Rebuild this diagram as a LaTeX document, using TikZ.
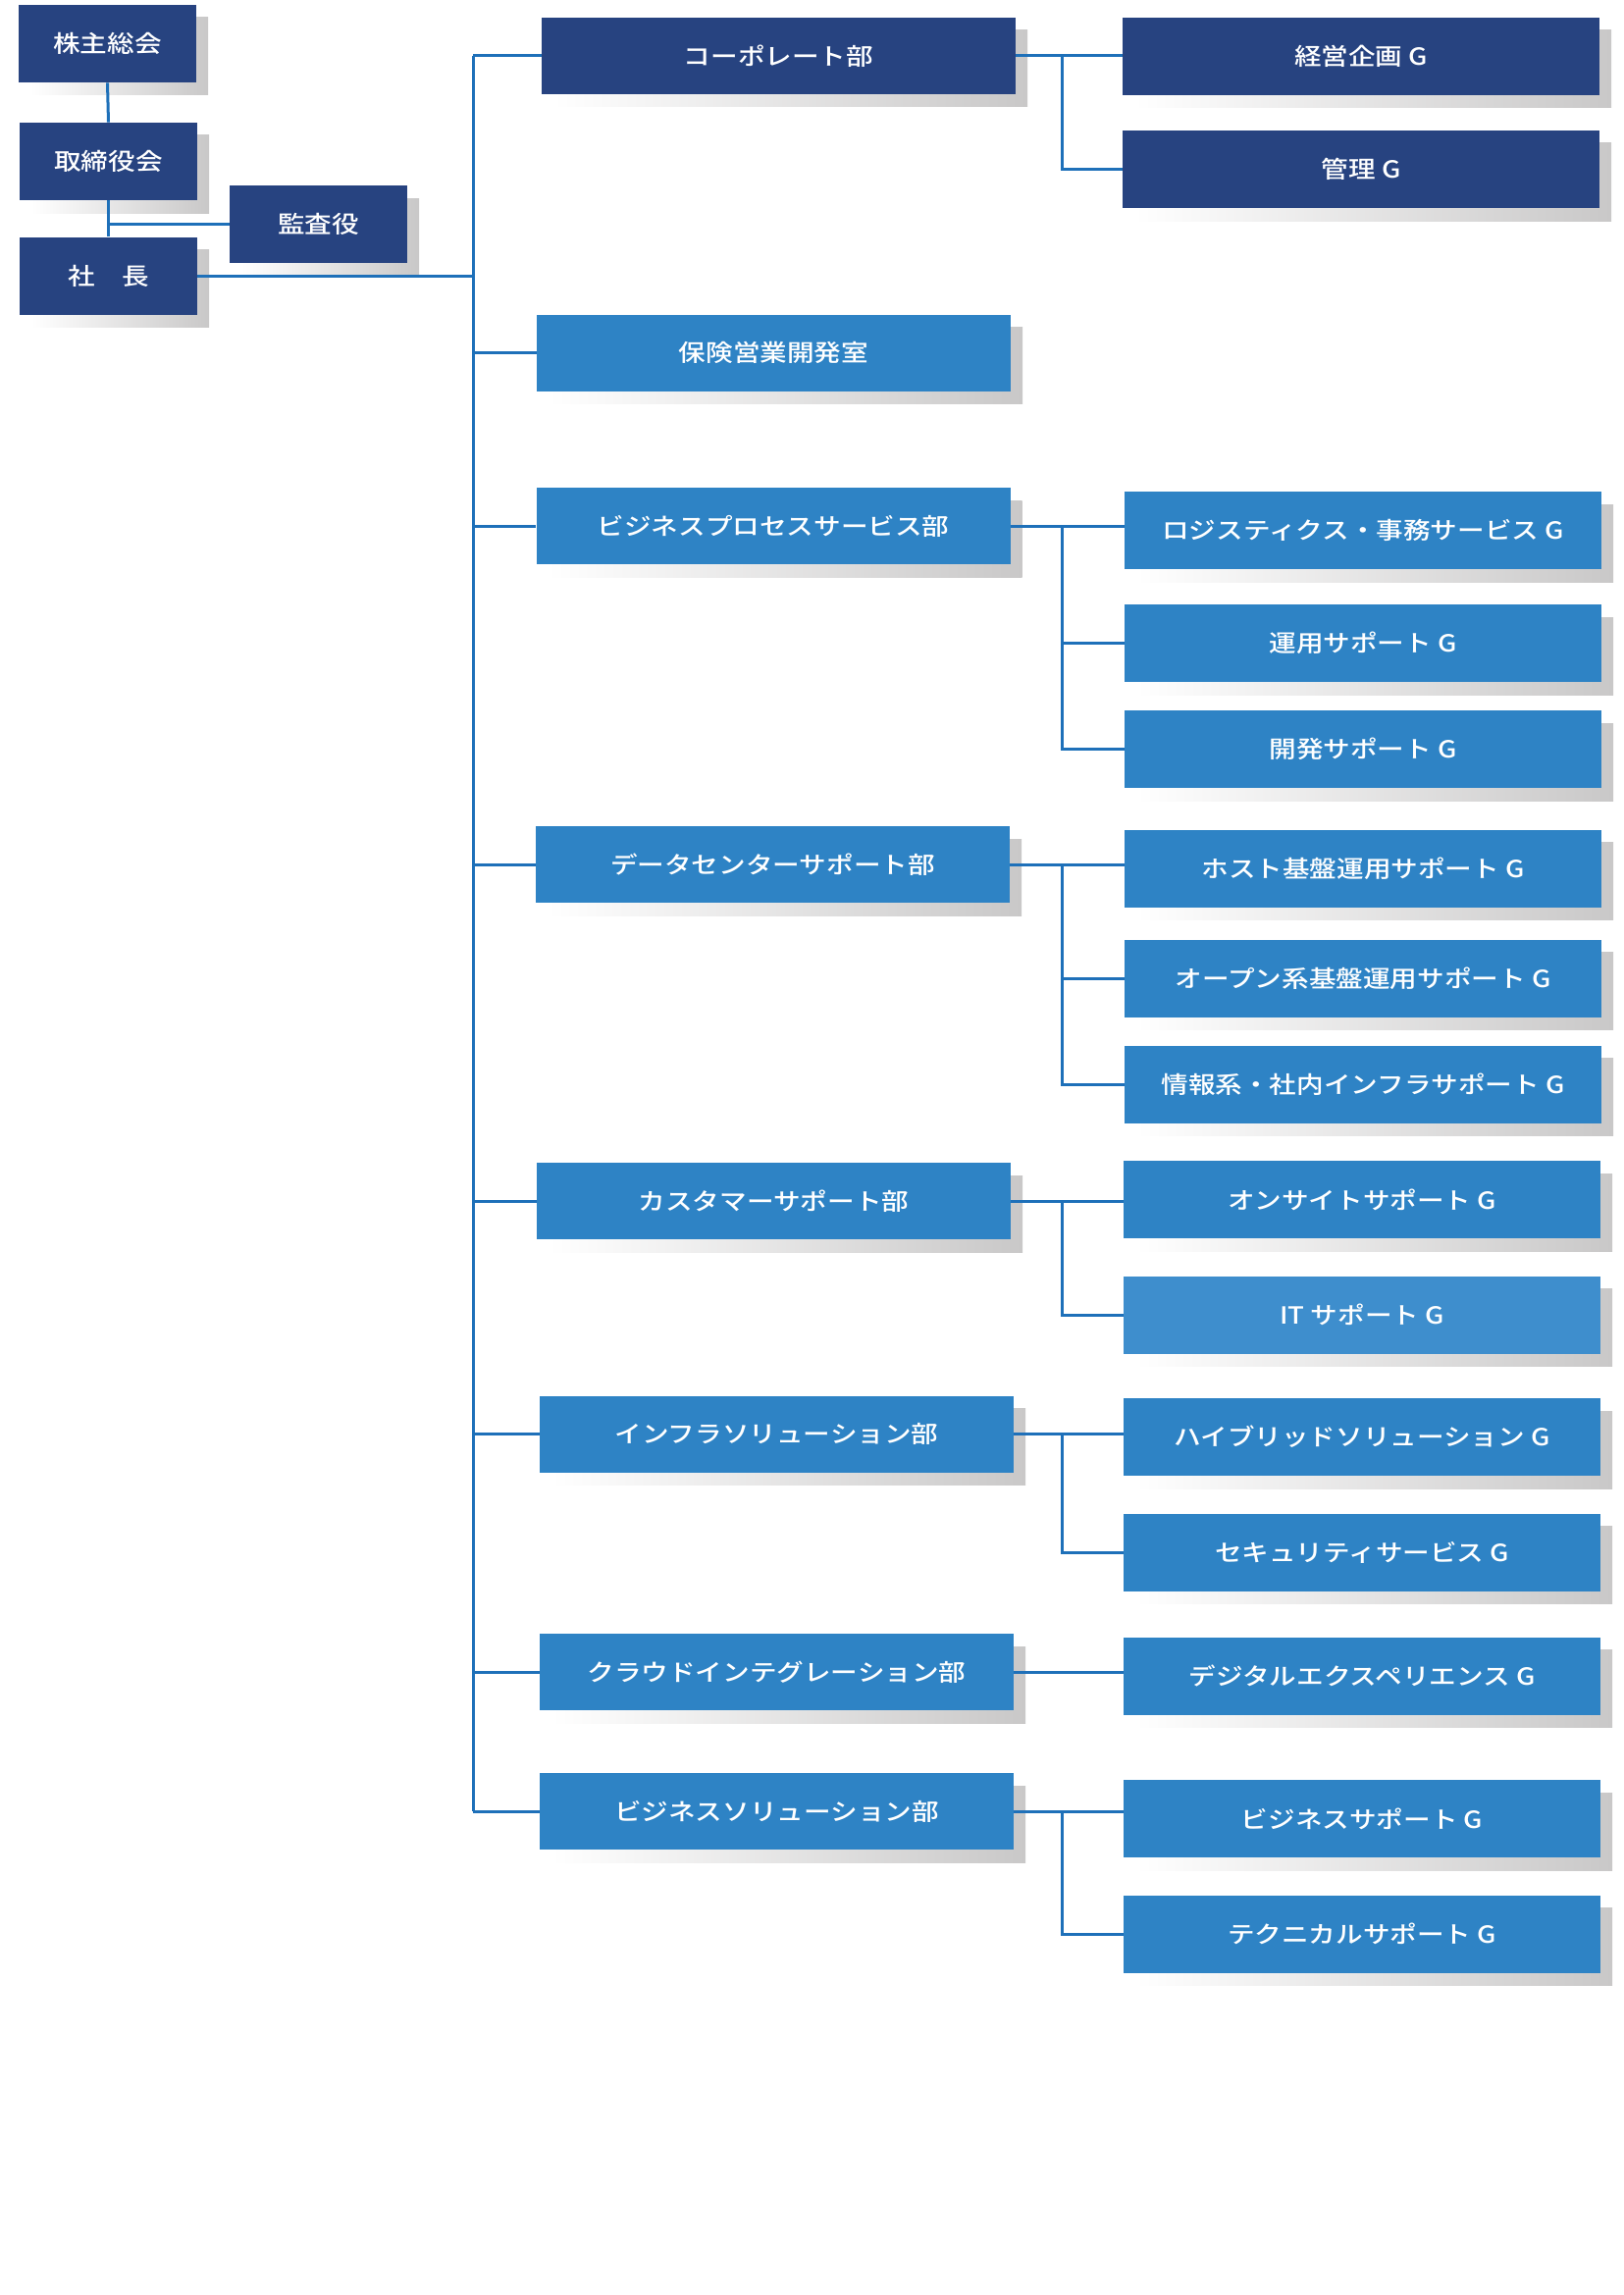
\documentclass[tikz,border=0pt]{standalone}
\usepackage{fontspec}
\newfontfamily\jpfont[FakeStretch=1.15]{Noto Sans CJK JP Medium}
\usetikzlibrary{shadows}
\definecolor{navy}{RGB}{39,67,128}
\definecolor{deptblue}{RGB}{46,131,197}
\definecolor{itblue}{RGB}{62,142,205}
\definecolor{linkblue}{RGB}{30,112,185}
\definecolor{shadowgray}{RGB}{201,200,200}
\begin{document}
\begin{tikzpicture}[x=0.5pt,y=-0.5pt,
    box/.style={rectangle,inner sep=0pt,text=white,font=\jpfont\fontsize{12pt}{14pt}\selectfont,
        general shadow={shadow xshift=6pt,shadow yshift=-6.5pt,left color=white,right color=shadowgray}},
    topbox/.style={box,fill=navy,minimum width=90.5pt,minimum height=39.5pt},
    deptbox/.style={box,fill=deptblue,minimum width=241.5pt,minimum height=39pt},
    grpbox/.style={box,fill=deptblue,minimum width=243pt,minimum height=39.5pt},
    conn/.style={draw=linkblue,line width=1.5pt}]
    \useasboundingbox (0,0) rectangle (1654,2339);
    \coordinate (T) at (482,0);
    \coordinate (R) at (1082,0);

    \node[topbox] (A1) at (109.5,44.5) {株主総会};
    \node[topbox] (A2) at (110.5,164.5) {取締役会};
    \node[topbox] (A3) at (324.5,228.5) {監査役};
    \node[topbox] (A4) at (110.5,281) {社　長};

    \node[deptbox,fill=navy] (B1) at (793.5,57) {コーポレート部};
    \node[deptbox] (B2) at (788.5,359.5) {保険営業開発室};
    \node[deptbox] (B3) at (788,536) {ビジネスプロセスサービス部};
    \node[deptbox] (B4) at (787.5,881) {データセンターサポート部};
    \node[deptbox] (B5) at (788.5,1224) {カスタマーサポート部};
    \node[deptbox] (B6) at (791.5,1461.5) {インフラソリューション部};
    \node[deptbox] (B7) at (791.5,1704) {クラウドインテグレーション部};
    \node[deptbox] (B8) at (791.5,1846) {ビジネスソリューション部};

    \node[grpbox,fill=navy] (G1) at (1387,57.5) {経営企画 G};
    \node[grpbox,fill=navy] (G2) at (1387,172.5) {管理 G};
    \node[grpbox] (G3) at (1389,540.5) {ロジスティクス・事務サービス G};
    \node[grpbox] (G4) at (1389,655.5) {運用サポート G};
    \node[grpbox] (G5) at (1389,763.5) {開発サポート G};
    \node[grpbox] (G6) at (1389,885) {ホスト基盤運用サポート G};
    \node[grpbox] (G7) at (1389,997) {オープン系基盤運用サポート G};
    \node[grpbox] (G8) at (1389,1105) {情報系・社内インフラサポート G};
    \node[grpbox] (G9) at (1388,1222.5) {オンサイトサポート G};
    \node[grpbox,fill=itblue] (G10) at (1388,1340) {IT サポート G};
    \node[grpbox] (G11) at (1388,1464.5) {ハイブリッドソリューション G};
    \node[grpbox] (G12) at (1388,1582) {セキュリティサービス G};
    \node[grpbox] (G13) at (1388,1708) {デジタルエクスペリエンス G};
    \node[grpbox] (G14) at (1388,1853.5) {ビジネスサポート G};
    \node[grpbox] (G15) at (1388,1971) {テクニカルサポート G};

    \draw[conn] (A1.south) -- (A2.north); \draw[conn] (A2.south) -- (A4.north); \draw[conn] (A3.west) -- (A3.west -| A2.south);
    \draw[conn] (A4.east) -- (A4.east -| T); \draw[conn] (B1.west -| T) -- (B8.west -| T);
    \draw[conn] (B1.west) -- (B1.west -| T); \draw[conn] (B2.west) -- (B2.west -| T); \draw[conn] (B3.west) -- (B3.west -| T); \draw[conn] (B4.west) -- (B4.west -| T);
    \draw[conn] (B5.west) -- (B5.west -| T); \draw[conn] (B6.west) -- (B6.west -| T); \draw[conn] (B7.west) -- (B7.west -| T); \draw[conn] (B8.west) -- (B8.west -| T);

    \draw[conn] (B1.east) -- (B1.east -| G1.west); \draw[conn] (B1.east -| R) |- (G2.west);
    \draw[conn] (B3.east) -- (B3.east -| G3.west); \draw[conn] (B3.east -| R) |- (G5.west); \draw[conn] (G4.west) -- (G4.west -| R);
    \draw[conn] (B4.east) -- (B4.east -| G6.west); \draw[conn] (B4.east -| R) |- (G8.west); \draw[conn] (G7.west) -- (G7.west -| R);
    \draw[conn] (B5.east) -- (B5.east -| G9.west); \draw[conn] (B5.east -| R) |- (G10.west);
    \draw[conn] (B6.east) -- (B6.east -| G11.west); \draw[conn] (B6.east -| R) |- (G12.west);
    \draw[conn] (B7.east) -- (B7.east -| G13.west);
    \draw[conn] (B8.east) -- (B8.east -| G14.west); \draw[conn] (B8.east -| R) |- (G15.west);
\end{tikzpicture}
\end{document}
